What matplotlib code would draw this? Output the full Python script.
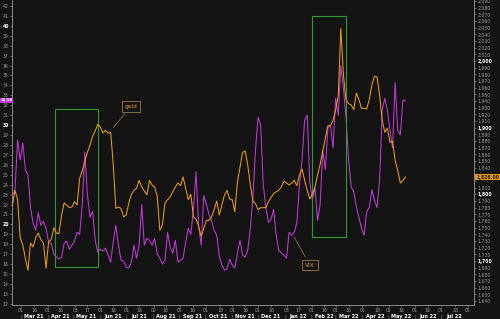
import matplotlib
matplotlib.use('Agg')
import matplotlib.pyplot as plt
import matplotlib.dates as mdates
import matplotlib.transforms as mtransforms
from matplotlib.patches import Rectangle
import pandas as pd

dates = pd.date_range('2021-02-19', periods=153, freq='3D')

vix = [22.9, 23.5, 28.5, 26.5, 28.2, 25.5, 25.0, 21.7, 20.1, 19.4,
       21.2, 19.9, 20.3, 19.6, 18.2, 18.1, 17.0, 16.7, 16.5, 16.7,
       18.1, 18.3, 17.5, 17.9, 18.3, 19.2, 19.0, 22.0, 27.3, 23.0,
       20.7, 21.3, 18.4, 17.2, 17.5, 17.3, 17.6, 16.9, 16.2, 18.3,
       19.9, 17.9, 16.4, 16.3, 15.7, 15.6, 16.2, 17.9, 16.6, 17.9,
       22.0, 17.9, 18.6, 18.4, 17.9, 18.6, 17.0, 16.6, 16.0, 16.4,
       19.2, 17.7, 17.1, 18.4, 16.2, 16.4, 16.6, 18.2, 19.6, 19.0,
       21.5, 25.3, 19.9, 17.9, 22.9, 22.0, 21.0, 20.4, 19.4, 18.9,
       16.8, 15.9, 15.4, 15.5, 16.5, 15.9, 15.6, 17.1, 18.4, 16.9,
       16.7, 17.4, 19.6, 22.7, 27.5, 30.8, 30.0, 24.0, 21.7, 20.2,
       20.5, 21.5, 18.9, 17.4, 17.1, 16.9, 16.6, 19.2, 18.9, 19.2,
       20.2, 24.0, 26.5, 30.5, 31.0, 24.2, 22.5, 23.7, 20.4, 22.0,
       27.5, 25.5, 29.7, 30.0, 27.7, 32.7, 31.0, 36.0, 33.7, 30.8,
       26.5, 23.8, 23.3, 21.8, 20.7, 19.6, 18.9, 21.3, 21.7, 23.5,
       22.4, 21.7, 24.5, 31.5, 32.7, 31.5, 29.5, 27.7, 34.3, 29.5,
       29.0, 32.5, 32.5]

gold = [1784, 1806, 1792, 1735, 1724, 1704, 1686, 1727, 1721, 1735,
        1742, 1732, 1727, 1689, 1729, 1732, 1750, 1742, 1741, 1769,
        1787, 1784, 1780, 1781, 1789, 1784, 1824, 1835, 1850, 1863,
        1874, 1887, 1895, 1905, 1901, 1892, 1896, 1892, 1893, 1844,
        1779, 1781, 1779, 1766, 1769, 1787, 1800, 1806, 1809, 1821,
        1811, 1805, 1799, 1821, 1814, 1811, 1797, 1746, 1754, 1787,
        1792, 1796, 1804, 1811, 1817, 1813, 1826, 1809, 1792, 1800,
        1766, 1763, 1752, 1737, 1749, 1761, 1761, 1766, 1777, 1790,
        1769, 1784, 1799, 1806, 1793, 1792, 1774, 1818, 1841, 1863,
        1865, 1844, 1814, 1790, 1786, 1777, 1780, 1780, 1780, 1789,
        1795, 1801, 1804, 1806, 1811, 1820, 1817, 1814, 1817, 1821,
        1813, 1829, 1838, 1821, 1806, 1793, 1800, 1811, 1829, 1845,
        1865, 1884, 1903, 1903, 1911, 1927, 1947, 2049, 1979, 1942,
        1936, 1934, 1927, 1952, 1942, 1929, 1929, 1928, 1942, 1964,
        1977, 1976, 1949, 1911, 1893, 1899, 1878, 1880, 1851, 1836,
        1817, 1821, 1826]

day_ticks = ['2021-03-01', '2021-03-16', '2021-04-01', '2021-04-16', '2021-05-03',
             '2021-05-17', '2021-06-01', '2021-06-16', '2021-07-01', '2021-07-16',
             '2021-08-02', '2021-08-16', '2021-09-01', '2021-09-16', '2021-10-01',
             '2021-10-18', '2021-11-01', '2021-11-16', '2021-12-01', '2021-12-16',
             '2022-01-03', '2022-01-17', '2022-02-01', '2022-02-16', '2022-03-01',
             '2022-03-16', '2022-04-01', '2022-04-18', '2022-05-02', '2022-05-16',
             '2022-06-01', '2022-06-16', '2022-07-01', '2022-07-18', '2022-08-01']
months = pd.date_range('2021-03-01', '2022-07-01', freq='MS')

bg = '#141414'
vix_color = '#c03ad6'
gold_color = '#e99a1d'
box_color = '#2f9a2f'

fig = plt.figure(figsize=(5, 3.19), dpi=100, facecolor=bg)
ax = fig.add_axes([12 / 500, 14 / 319, 462 / 500, 305 / 319])
ax.set_facecolor(bg)
ax2 = ax.twinx()

ax.plot(dates, vix, color=vix_color, lw=0.75, zorder=3)
ax2.plot(dates, gold, color=gold_color, lw=0.75, zorder=3)

ax.set_xlim(pd.Timestamp('2021-02-18 12:00'), pd.Timestamp('2022-08-08 12:00'))
ax.set_ylim(11.88, 42.6)
ax2.set_ylim(1634, 2091.5)

# green highlight boxes
for start, end, lo, hi in [('2021-04-09', '2021-05-29', 15.7, 31.6),
                           ('2022-02-01', '2022-03-13', 18.7, 41.0)]:
    x0 = mdates.date2num(pd.Timestamp(start))
    x1 = mdates.date2num(pd.Timestamp(end))
    ax.add_patch(Rectangle((x0, lo), x1 - x0, hi - lo, fill=False,
                           ec=box_color, lw=0.8, zorder=4))

# spines
for a in (ax, ax2):
    for s in a.spines.values():
        s.set_visible(False)
for a, side in [(ax, 'left'), (ax, 'bottom'), (ax2, 'right')]:
    a.spines[side].set_visible(True)
    a.spines[side].set_color('#9a9a9a')
    a.spines[side].set_linewidth(0.6)

# left axis (VIX)
lticks = list(range(12, 43))
ax.set_yticks(lticks)
ax.set_yticklabels([str(v) for v in lticks])
ax.tick_params(axis='y', length=1.5, width=0.4, pad=0.8, labelsize=3.3,
               colors='#9a9a9a')
for lab, v in zip(ax.get_yticklabels(), lticks):
    if v % 10 == 0:
        lab.set_color('white')
        lab.set_fontweight('bold')

# right axis (gold); labels under the last-value tag are hidden
rticks = list(range(1640, 2091, 10))
ax2.set_yticks(rticks)
ax2.set_yticklabels(['' if abs(v - gold[-1]) < 8 else f'{v:,}' for v in rticks])
ax2.tick_params(axis='y', length=1.5, width=0.4, pad=0.8, labelsize=3.3,
                colors='#9a9a9a')
for lab, v in zip(ax2.get_yticklabels(), rticks):
    if v % 100 == 0:
        lab.set_color('white')
        lab.set_fontweight('bold')

# bottom axis: day numbers and month names
ax.set_xticks([pd.Timestamp(d) for d in day_ticks])
ax.set_xticklabels([d[-2:] for d in day_ticks])
ax.tick_params(axis='x', length=1.5, width=0.4, pad=0.6, labelsize=3.3,
               colors='#9a9a9a')
trans = mtransforms.blended_transform_factory(ax.transData, ax.transAxes)
for m in months:
    mid = m + pd.Timedelta(days=15)
    ax.text(mid, -0.030, m.strftime('%b %y'), transform=trans, ha='center',
            va='top', fontsize=3.6, fontweight='bold', color='white')
    ax.text(m, -0.030, '|', transform=trans, ha='center', va='top',
            fontsize=3.6, color='#9a9a9a')

# series labels
ax2.annotate('gold', xy=(pd.Timestamp('2021-06-14'), 1897),
             xytext=(0.258, 0.652), textcoords='axes fraction',
             ha='center', va='center', fontsize=4.2, color=gold_color,
             bbox=dict(boxstyle='square,pad=0.5', fc=bg, ec='#a07a3a', lw=0.6),
             arrowprops=dict(arrowstyle='-', color='#a07a3a', lw=0.5),
             zorder=6)
ax.annotate('VIX', xy=(pd.Timestamp('2022-01-10'), 19.0),
            xytext=(0.645, 0.131), textcoords='axes fraction',
            ha='center', va='center', fontsize=4.2, color=gold_color,
            bbox=dict(boxstyle='square,pad=0.5', fc=bg, ec='#a07a3a', lw=0.6),
            arrowprops=dict(arrowstyle='-', color='#a07a3a', lw=0.5),
            zorder=6)

# last value tags on the axes
ax2.annotate(f'{gold[-1]:,.2f}', xy=(1.0, gold[-1]),
             xycoords=('axes fraction', 'data'), xytext=(1.5, 0),
             textcoords='offset points', ha='left', va='center',
             fontsize=3.3, color='#151515', fontweight='bold',
             bbox=dict(boxstyle='square,pad=0.2', fc=gold_color, ec='none'),
             annotation_clip=False)
ax.annotate(f'{vix[-1]:.2f}', xy=(0.5 / 500, vix[-1]),
            xycoords=(fig.transFigure, 'data'),
            ha='left', va='center',
            fontsize=2.8, color='white', fontweight='bold',
            bbox=dict(boxstyle='square,pad=0.15', fc=vix_color, ec='none'),
            annotation_clip=False, zorder=7)

fig.savefig('out.png', dpi=100, facecolor=bg)
